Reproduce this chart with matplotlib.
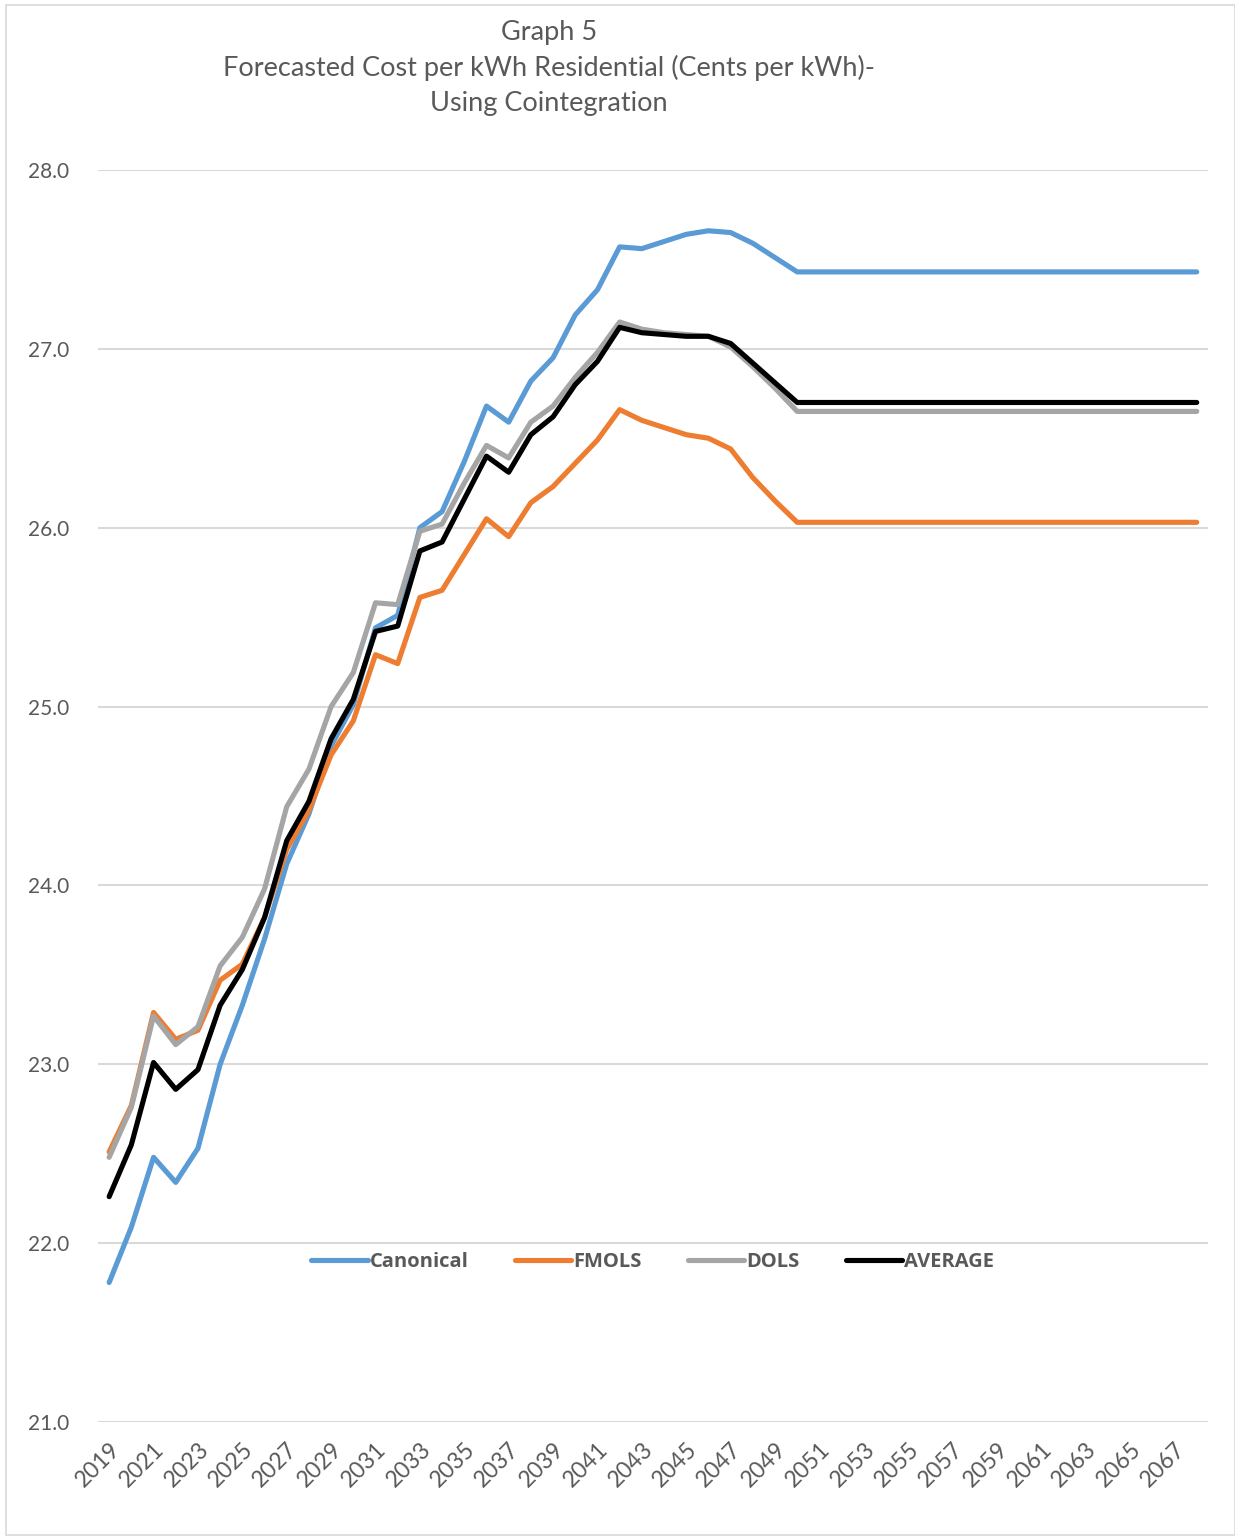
import matplotlib
matplotlib.use("Agg")
import matplotlib.pyplot as plt
from matplotlib.patches import Rectangle

years = list(range(2019, 2069))

canonical = [21.78, 22.09, 22.48, 22.34, 22.53, 23.00, 23.33, 23.70, 24.12, 24.40,
             24.78, 25.01, 25.44, 25.51, 26.00, 26.09, 26.37, 26.68, 26.59, 26.82,
             26.95, 27.19, 27.33, 27.57, 27.56, 27.60, 27.64, 27.66, 27.65, 27.59,
             27.51, 27.43] + [27.43] * 18
fmols = [22.51, 22.77, 23.29, 23.14, 23.19, 23.47, 23.56, 23.82, 24.20, 24.42,
         24.73, 24.92, 25.29, 25.24, 25.61, 25.65, 25.85, 26.05, 25.95, 26.14,
         26.23, 26.36, 26.49, 26.66, 26.60, 26.56, 26.52, 26.50, 26.44, 26.28,
         26.15, 26.03] + [26.03] * 18
dols = [22.48, 22.76, 23.27, 23.11, 23.21, 23.55, 23.71, 23.98, 24.44, 24.65,
        25.00, 25.19, 25.58, 25.57, 25.98, 26.02, 26.25, 26.46, 26.39, 26.59,
        26.68, 26.84, 26.98, 27.15, 27.11, 27.09, 27.08, 27.07, 27.01, 26.90,
        26.78, 26.65] + [26.65] * 18
average = [22.26, 22.55, 23.01, 22.86, 22.97, 23.33, 23.53, 23.82, 24.25, 24.47,
           24.82, 25.04, 25.42, 25.45, 25.87, 25.92, 26.16, 26.40, 26.31, 26.52,
           26.62, 26.80, 26.93, 27.12, 27.09, 27.08, 27.07, 27.07, 27.03, 26.92,
           26.81, 26.70] + [26.70] * 18

series_names = ["Canonical", "FMOLS", "DOLS", "AVERAGE"]
series_colors = ["#5B9BD5", "#ED7D31", "#A5A5A5", "#000000"]
y_ticks = [21.0, 22.0, 23.0, 24.0, 25.0, 26.0, 27.0, 28.0]
x_tick_years = years[::2]

title_lines = ["Graph 5",
               "Forecasted Cost per kWh Residential (Cents per kWh)-",
               "Using Cointegration"]

text_color = "#595959"
font_main = ["Lato", "DejaVu Sans"]
font_legend = ["Open Sans", "DejaVu Sans"]

fig = plt.figure(figsize=(12.35, 15.38), dpi=100)
ax = fig.add_axes([0.0794, 0.0754, 0.8986, 0.8141])

for name, values, color in zip(series_names, [canonical, fmols, dols, average], series_colors):
    ax.plot(years, values, color=color, lw=3.7, label=name,
            solid_joinstyle="round", solid_capstyle="round")

ax.set_xlim(2018.5, 2068.5)
ax.set_ylim(21.0, 28.0)
ax.set_yticks(y_ticks)
ax.set_yticklabels([f"{v:.1f}" for v in y_ticks], fontsize=15, color=text_color,
                   family=font_main)
ax.set_xticks(x_tick_years)
ax.set_xticklabels([str(y) for y in x_tick_years], fontsize=16.5, color=text_color,
                   family=font_main, rotation=45, ha="right", va="top",
                   rotation_mode="anchor")
ax.tick_params(axis="both", length=0)
ax.tick_params(axis="y", pad=21)
ax.tick_params(axis="x", pad=12)

ax.grid(axis="y", color="#D9D9D9", lw=1.5)
ax.set_axisbelow(True)
for sp in ax.spines.values():
    sp.set_visible(False)

leg = ax.legend(loc="center", bbox_to_anchor=(0.5, 0.128), ncol=4, frameon=False,
                handlelength=2.8, columnspacing=2.3, handletextpad=0.1,
                prop={"family": font_legend, "size": 14.5, "weight": "bold"})
for t in leg.get_texts():
    t.set_color(text_color)

y_title = [0.979, 0.956, 0.933]
for line, yy in zip(title_lines, y_title):
    fig.text(0.4445, yy, line, ha="center", va="center", fontsize=19.5,
             color=text_color, family=font_main)

fig.patches.append(Rectangle((0.005, 0.002), 0.995, 0.995, transform=fig.transFigure,
                             fill=False, edgecolor="#D9D9D9", lw=1.2))

fig.savefig("out.png", dpi=100)
